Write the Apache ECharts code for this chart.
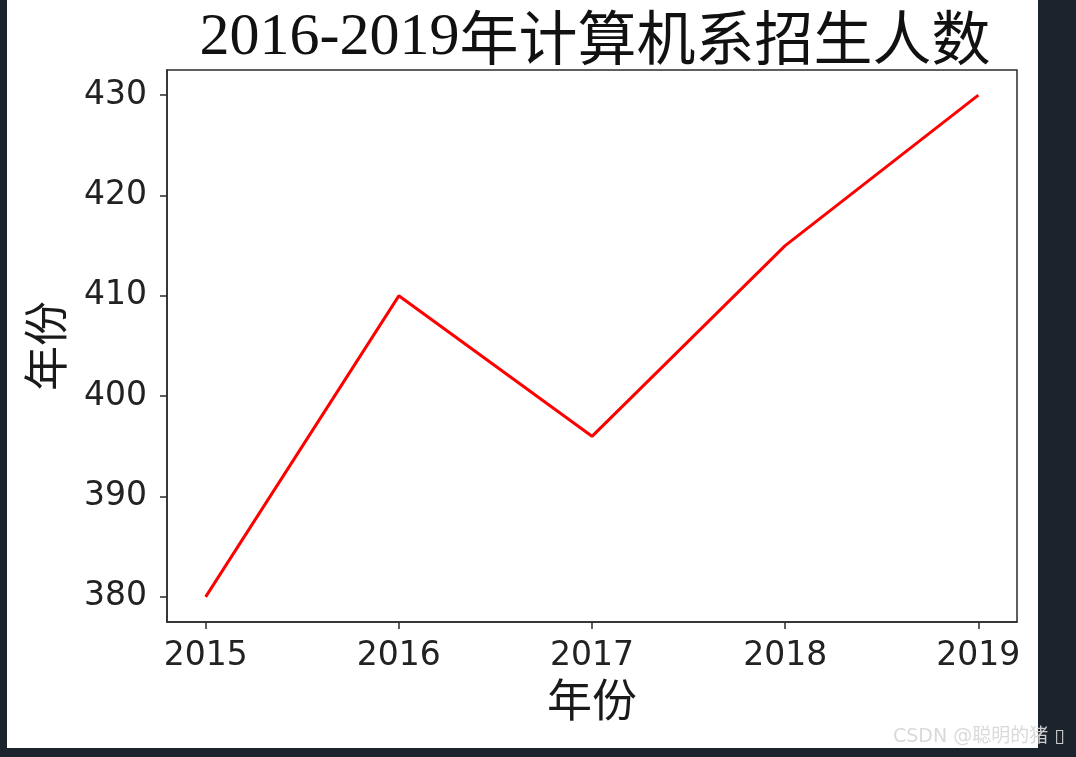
<!DOCTYPE html>
<html>
<head>
<meta charset="utf-8">
<script src="https://cdn.jsdelivr.net/npm/echarts@6/dist/echarts.min.js"></script>
<style>
html,body{margin:0;padding:0;background:#1b232d;}
#chart{width:1076px;height:757px;}
</style>
</head>
<body>
<div id="chart"></div>
<script>
const years = [2015, 2016, 2017, 2018, 2019];
const students = [380, 410, 396, 415, 430];
const yTicks = [380, 390, 400, 410, 420, 430];
const titleDigits = '2016-2019';
const titleCJK = '年计算机系招生人数';
const axisName = '年份';
const watermark = 'CSDN @聪明的猪 ▯';

const chart = echarts.init(document.getElementById('chart'), null, {renderer: 'canvas'});
const tickColor = '#2b2b2b';
const labelFont = {fontFamily: 'DejaVu Sans', fontSize: 33, color: '#222'};
const nameFont = {fontFamily: '"Noto Sans CJK SC"', fontSize: 45, color: '#1a1a1a'};

chart.setOption({
  animation: false,
  backgroundColor: '#1b232d',
  graphic: [
    {type: 'rect', z: -10, shape: {x: 7, y: 0, width: 1031, height: 748}, style: {fill: '#ffffff'}, silent: true},
    {type: 'text', z: 100, left: 893, top: 728, style: {text: watermark, fontSize: 19, fontFamily: '"DejaVu Sans", "Noto Sans CJK SC"', fill: 'rgba(215,215,215,0.95)'}}
  ],
  title: {
    left: 590, top: 3, textAlign: 'center',
    text: '{a|' + titleDigits + '}{b|' + titleCJK + '}',
    textStyle: {
      fontWeight: 'normal',
      rich: {
        a: {fontFamily: '"Liberation Serif"', fontSize: 60, fontWeight: 'normal', color: '#111'},
        b: {fontFamily: '"Noto Sans CJK SC"', fontSize: 59, fontWeight: 'normal', color: '#111'}
      }
    }
  },
  grid: {left: 167, top: 70, width: 850, height: 552, show: true, borderColor: tickColor, borderWidth: 1.5, backgroundColor: '#fff'},
  xAxis: {
    type: 'value', min: 2014.8, max: 2019.2,
    name: axisName, nameLocation: 'middle', nameGap: 53, nameTextStyle: nameFont,
    axisLine: {show: true, lineStyle: {color: tickColor, width: 1.5}},
    axisTick: {show: true, length: 7, lineStyle: {color: tickColor, width: 1.5}, customValues: years},
    axisLabel: {margin: 18, customValues: years, formatter: v => String(v), ...labelFont},
    splitLine: {show: false}
  },
  yAxis: {
    type: 'value', min: 377.5, max: 432.5,
    name: axisName, nameLocation: 'middle', nameGap: 99, nameRotate: 90, nameTextStyle: nameFont,
    axisLine: {show: true, lineStyle: {color: tickColor, width: 1.5}},
    axisTick: {show: true, length: 7, lineStyle: {color: tickColor, width: 1.5}, customValues: yTicks},
    axisLabel: {margin: 20, customValues: yTicks, formatter: v => String(v), ...labelFont},
    splitLine: {show: false}
  },
  series: [{
    type: 'line',
    data: years.map((y, i) => [y, students[i]]),
    showSymbol: false,
    lineStyle: {color: '#ff0000', width: 3},
    z: 5
  }]
});
</script>
</body>
</html>
